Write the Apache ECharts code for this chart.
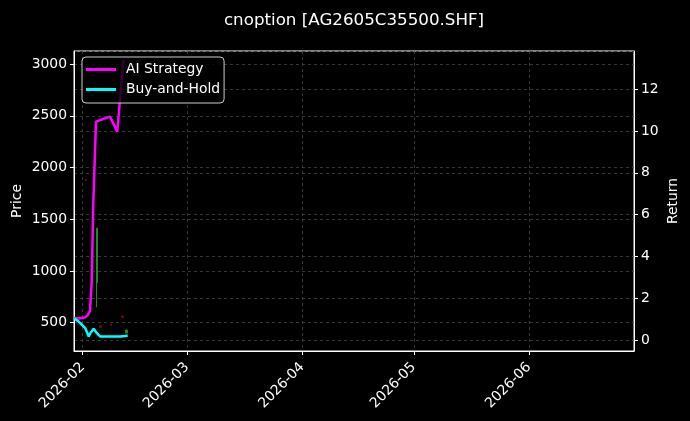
<!DOCTYPE html>
<html>
<head>
<meta charset="utf-8">
<script src="https://cdn.jsdelivr.net/npm/echarts@6/dist/echarts.min.js"></script>
<style>
html,body{margin:0;padding:0;background:#000;}
#chart{width:690px;height:421px;}
</style>
</head>
<body>
<div id="chart"></div>
<script>
// ---- data ----
const strategyTimes = ['2026-01-29 16:00','2026-01-30 22:00','2026-02-01 17:00','2026-02-02 10:00','2026-02-02 23:00','2026-02-03 10:00','2026-02-03 20:30','2026-02-04 14:00','2026-02-08 08:00','2026-02-10 07:00','2026-02-10 18:00','2026-02-11 23:00'];
const strategyValues = [1.05, 1.03, 1.09, 1.20, 1.39, 2.73, 6.56, 10.45, 10.69, 9.97, 9.89, 13.40];

const holdTimes = ['2026-01-29 16:00','2026-01-30 22:00','2026-02-01 17:00','2026-02-02 15:00','2026-02-03 01:00','2026-02-03 23:00','2026-02-04 20:00','2026-02-05 17:30','2026-02-07 23:45','2026-02-11 02:30','2026-02-11 13:30','2026-02-12 11:00','2026-02-13 02:30'];
const holdValues = [1.03, 0.88, 0.56, 0.16, 0.32, 0.53, 0.32, 0.16, 0.16, 0.16, 0.21, 0.19, 0.21];

const candleTimes = ['2026-02-01 21:00','2026-02-04 20:00','2026-02-05 17:30','2026-02-08 14:00','2026-02-11 18:00','2026-02-12 20:00'];
const candleOpen  = [1885, 885, 470, 485, 565, 400];
const candleClose = [1875, 1415, 455, 472, 552, 430];
const candleLow   = [1870, 650, 450, 470, 550, 398];
const candleHigh  = [1890, 1415, 475, 488, 568, 432];

const xStart = '2026-01-29 16:00';
const xEnd = '2026-06-29 05:00';
const priceRange = [227, 3126];
const returnRange = [-0.53, 13.83];

// ---- build ----
const ts = s => new Date(s.replace(' ', 'T')).getTime();
const strategyData = strategyTimes.map((t, i) => [ts(t), strategyValues[i]]);
const holdData = holdTimes.map((t, i) => [ts(t), holdValues[i]]);
const candleData = candleTimes.map((t, i) => [ts(t), candleOpen[i], candleClose[i], candleLow[i], candleHigh[i]]);

const FONT = 'DejaVu Sans';
const FS = 13.9;
const gridLine = {show: true, lineStyle: {color: '#444444', width: 0.8, type: [3, 3]}};
const axisLineW = {show: true, onZero: false, lineStyle: {color: '#ffffff', width: 1}};
const tickW = {show: true, length: 4, inside: false, lineStyle: {color: '#ffffff', width: 1}};
const pad = n => (n < 10 ? '0' : '') + n;

const chart = echarts.init(document.getElementById('chart'), null, {renderer: 'canvas'});
chart.setOption({
  backgroundColor: '#000000',
  animation: false,
  textStyle: {fontFamily: FONT},
  title: {
    text: 'cnoption [AG2605C35500.SHF]',
    left: 349, top: 7, textAlign: 'center',
    textStyle: {color: '#ffffff', fontSize: 16.7, fontWeight: 'normal', fontFamily: FONT}
  },
  legend: {
    orient: 'vertical', left: 82, top: 57,
    padding: [5, 4, 6, 4],
    itemGap: 5, itemWidth: 30, itemHeight: 3,
    backgroundColor: 'rgba(0,0,0,0.8)',
    borderColor: '#cccccc', borderWidth: 1, borderRadius: 4,
    textStyle: {color: '#ffffff', fontSize: FS, lineHeight: 15, fontFamily: FONT, padding: [0, 0, 0, 5]},
    data: [
      {name: 'AI Strategy', icon: 'rect'},
      {name: 'Buy-and-Hold', icon: 'rect'}
    ]
  },
  grid: {left: 74, right: 56, top: 51, bottom: 70, outerBoundsMode: 'none', containLabel: false, show: true, borderColor: '#ffffff', borderWidth: 1, backgroundColor: 'transparent'},
  xAxis: {
    type: 'time',
    min: ts(xStart), max: ts(xEnd),
    minInterval: 28 * 86400000,
    splitNumber: 5,
    axisLine: axisLineW, axisTick: tickW, splitLine: gridLine,
    axisLabel: {
      color: '#ffffff', fontSize: FS, rotate: 45, fontFamily: FONT, margin: 14,
      showMinLabel: false, showMaxLabel: false,
      formatter: v => { const d = new Date(v); return d.getFullYear() + '-' + pad(d.getMonth() + 1); }
    }
  },
  yAxis: [
    {
      type: 'value', position: 'left',
      min: priceRange[0], max: priceRange[1],
      minInterval: 500, maxInterval: 500, splitNumber: 6,
      name: 'Price', nameLocation: 'middle', nameGap: 50, nameRotate: 90, nameMoveOverlap: false,
      nameTextStyle: {color: '#ffffff', fontSize: FS, fontFamily: FONT},
      axisLine: axisLineW, axisTick: tickW, splitLine: gridLine,
      axisLabel: {color: '#ffffff', fontSize: FS, fontFamily: FONT, showMinLabel: false, showMaxLabel: false, margin: 7,
        formatter: v => String(Math.round(v))}
    },
    {
      type: 'value', position: 'right',
      min: returnRange[0], max: returnRange[1],
      minInterval: 2, maxInterval: 2, splitNumber: 7,
      name: 'Return', nameLocation: 'middle', nameGap: 32, nameRotate: 90, nameMoveOverlap: false,
      nameTextStyle: {color: '#ffffff', fontSize: FS, fontFamily: FONT},
      axisLine: axisLineW, axisTick: tickW, splitLine: gridLine,
      axisLabel: {color: '#ffffff', fontSize: FS, fontFamily: FONT, showMinLabel: false, showMaxLabel: false, margin: 7,
        formatter: v => String(Math.round(v))}
    }
  ],
  series: [
    {
      name: 'Price', type: 'candlestick', yAxisIndex: 0,
      barWidth: 2,
      encode: {x: 0, y: [1, 2, 3, 4]},
      itemStyle: {color: '#1f8a1f', color0: '#6a1010', borderColor: '#1f8a1f', borderColor0: '#6a1010', borderWidth: 1},
      data: candleData, z: 1
    },
    {
      name: 'AI Strategy', type: 'line', yAxisIndex: 1,
      showSymbol: false, symbol: 'none',
      lineStyle: {color: '#ff00ff', width: 2.5},
      itemStyle: {color: '#ff00ff'},
      data: strategyData, z: 3
    },
    {
      name: 'Buy-and-Hold', type: 'line', yAxisIndex: 1,
      showSymbol: false, symbol: 'none',
      lineStyle: {color: '#00ffff', width: 2.5},
      itemStyle: {color: '#00ffff'},
      data: holdData, z: 3
    }
  ]
});
</script>
</body>
</html>
